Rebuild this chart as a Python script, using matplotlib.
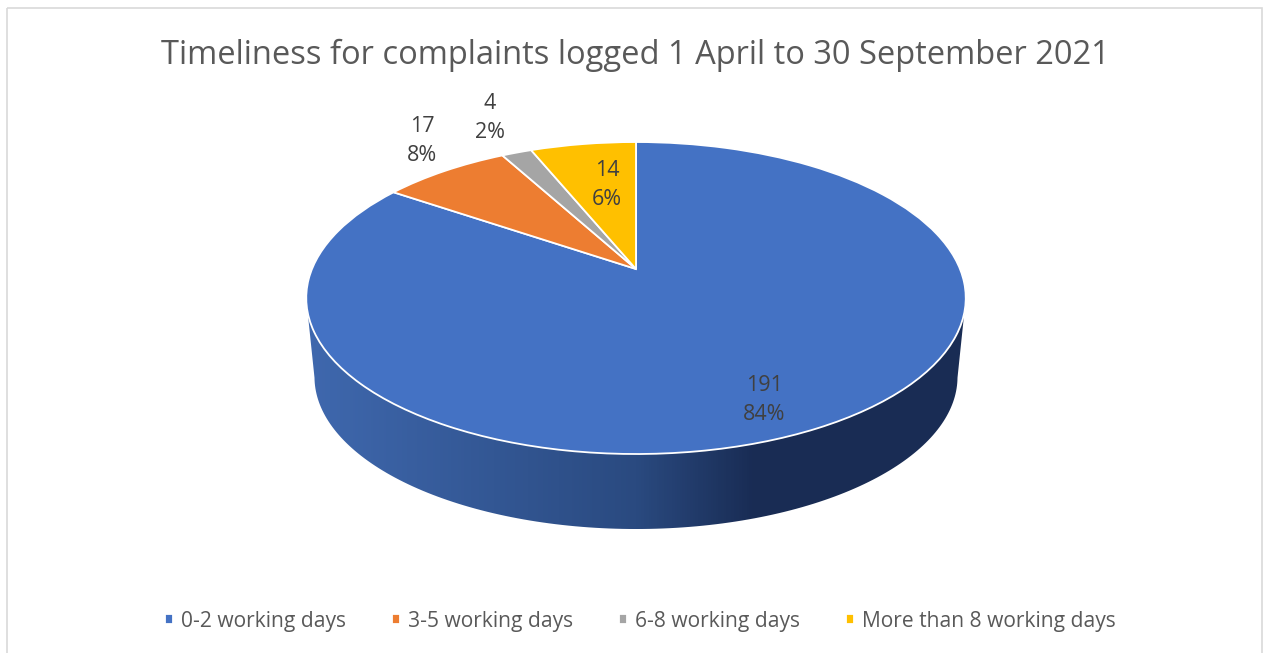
import numpy as np
import matplotlib
matplotlib.use('Agg')
import matplotlib.pyplot as plt
from matplotlib.colors import LinearSegmentedColormap
from matplotlib.patches import Polygon, Rectangle
from matplotlib.transforms import Transform

title = 'Timeliness for complaints logged 1 April to 30 September 2021'
categories = ['0-2 working days', '3-5 working days', '6-8 working days', 'More than 8 working days']
counts = [191, 17, 4, 14]
percents = [84, 8, 2, 6]
colors = ['#4472C4', '#ED7D31', '#A5A5A5', '#FFC000']

# label spots in pixels, placed by hand like in the original
label_pos = [(764, 400), (422, 141), (490, 118), (607, 185)]

plt.rcParams['font.family'] = ['Open Sans', 'DejaVu Sans']

# the pie is seen at an angle, so its centre is not the middle of the ellipse
CX, CY = 636, 269
A, B, K = 324, 150.6, 0.186


def project(xy):
    xy = np.asarray(xy, dtype=float)
    w = 1 + K * xy[:, 1]
    return np.column_stack([CX + A * xy[:, 0] / w, CY - B * xy[:, 1] / w])


class Tilt(Transform):
    input_dims = output_dims = 2
    is_affine = False
    has_inverse = False

    def transform_non_affine(self, values):
        return project(values)


fig = plt.figure(figsize=(12.65, 6.53), dpi=100)
ax = fig.add_axes([0, 0, 1, 1])

wedges, _ = ax.pie(counts, colors=colors, startangle=90, counterclock=False,
                   wedgeprops={'edgecolor': 'white', 'linewidth': 1.3, 'zorder': 3})
for w in wedges:
    w.set_transform(Tilt() + ax.transData)
    w.set_clip_on(False)

# side of the disc
t = np.radians(np.linspace(0, 360, 361))
rim = project(np.column_stack([np.cos(t), np.sin(t)]))
lower = rim[rim[:, 1] >= 298]
lower = lower[np.argsort(lower[:, 0])]
base = lower.copy()
base[:, 0] = CX + (base[:, 0] - CX) * 0.975
base[:, 1] = 529 - (454 - base[:, 1]) * 0.975
side = Polygon(np.vstack([lower, base[::-1]]), closed=True, transform=ax.transData,
               facecolor='none', edgecolor='none')
ax.add_patch(side)
shade = LinearSegmentedColormap.from_list(
    'side', [(0, '#3F68AE'), (0.5, '#2A4A80'), (0.68, '#192C54'), (1, '#192C54')])
img = ax.imshow(np.linspace(0, 1, 660).reshape(1, -1), cmap=shade, aspect='auto',
                extent=(306, 966, 529, 298), zorder=2)
img.set_clip_path(side)

for (x, y), n, p in zip(label_pos, counts, percents):
    ax.text(x, y, f'{n}\n{p}%', ha='center', va='center', fontsize=15.5, color='#404040',
            linespacing=1.55, zorder=5)

ax.text(635, 55, title, ha='center', va='center', fontsize=23.5, color='#595959')

leg = ax.legend(wedges, categories, ncol=4, loc='center', frameon=False, fontsize=15.1,
                bbox_to_anchor=(640.5 / 1265, 1 - 621 / 653), handlelength=0.38, handleheight=0.38,
                handletextpad=0.38, columnspacing=2.2, labelcolor='#595959')

ax.add_patch(Rectangle((7, 7.5), 1255, 700, facecolor='none', edgecolor='#D9D9D9',
                       linewidth=1.2, clip_on=True))

ax.set_aspect('auto')
ax.set_xlim(0, 1265)
ax.set_ylim(653, 0)
ax.axis('off')

fig.savefig('out.png', dpi=100)
